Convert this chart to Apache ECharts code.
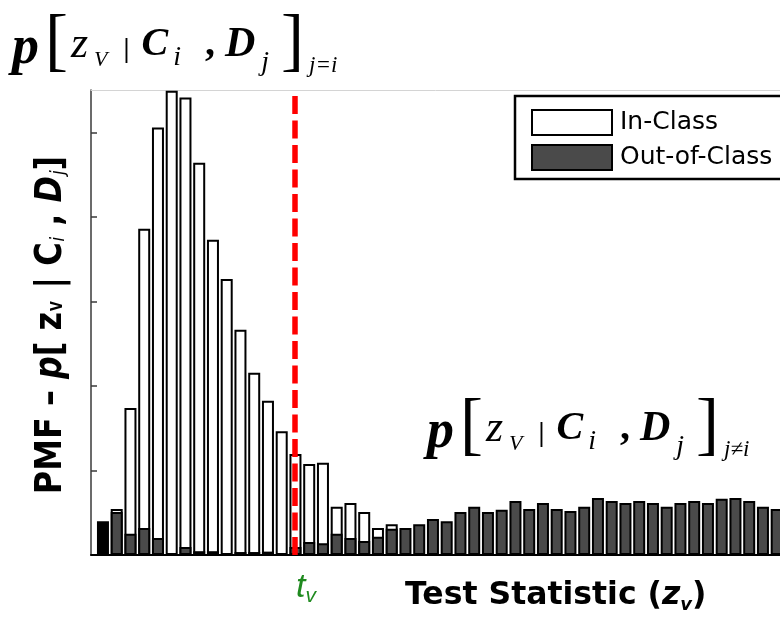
<!DOCTYPE html>
<html>
<head>
<meta charset="utf-8">
<script src="https://cdn.jsdelivr.net/npm/echarts@6/dist/echarts.min.js"></script>
<style>
html, body { margin: 0; padding: 0; background: #fff; }
#chart { width: 780px; height: 619px; }
</style>
</head>
<body>
<div id="chart"></div>
<script>
// PMF of the test statistic, one value per histogram bin
var inClass = [0, 0.0109, 0.0348, 0.0772, 0.1011, 0.1098, 0.1082, 0.0928, 0.0746, 0.0653,
    0.0533, 0.0431, 0.0365, 0.0293, 0.0239, 0.0215, 0.0218, 0.0114, 0.0123, 0.0102,
    0.0064, 0.0073, 0, 0, 0, 0, 0, 0, 0, 0,
    0, 0, 0, 0, 0, 0, 0, 0, 0, 0,
    0, 0, 0, 0, 0, 0, 0, 0, 0, 0, 0];
var outClass = [0.0080, 0.0102, 0.0050, 0.0064, 0.0040, 0, 0.0019, 0.0009, 0.0009, 0,
    0.0007, 0.0007, 0.0008, 0, 0.0019, 0.0031, 0.0028, 0.0050, 0.0040, 0.0033,
    0.0043, 0.0062, 0.0064, 0.0073, 0.0085, 0.0080, 0.0102, 0.0114, 0.0102, 0.0107,
    0.0128, 0.0109, 0.0123, 0.0109, 0.0104, 0.0114, 0.0135, 0.0128, 0.0123, 0.0128,
    0.0123, 0.0114, 0.0123, 0.0128, 0.0123, 0.0133, 0.0135, 0.0128, 0.0114, 0.0109, 0.0142];
var seriesNames = ['In-Class', 'Out-of-Class'];
var tV = 14.97;               // threshold t_v, in bin units
var yTickValues = [0.02, 0.04, 0.06, 0.08, 0.10];
var yMax = 0.11;

var bins = inClass.map(function(v, i){ return i + 1; });

function toPairs(vals){
    return vals.map(function(v, i){ return [bins[i], v]; });
}

var outData = toPairs(outClass).map(function(p, i){
    // first bin is drawn solid black in the original
    return i === 0 ? { value: p, itemStyle: { color: '#000' } } : p;
});

var serif = 'Liberation Serif';
var sans = 'DejaVu Sans';
var blue = '#1515ee';
var green = '#1f8a1f';

// p[ z_V | C_i , D_j ]_sub  -- big formula, tokens placed from the top of a 70px line
function formulaRich(dColor){
    return {
        p:   { fontFamily: serif, fontStyle: 'italic', fontWeight: 'bold', fontSize: 54, lineHeight: 58, verticalAlign: 'top', padding: [12, 6, 0, 0] },
        bl:  { fontFamily: serif, fontSize: 69, lineHeight: 52, verticalAlign: 'top', padding: [0, 3, 0, 0] },
        br:  { fontFamily: serif, fontSize: 69, lineHeight: 52, verticalAlign: 'top', padding: [0, 3, 0, 12] },
        z:   { fontFamily: serif, fontStyle: 'italic', fontSize: 44, lineHeight: 70 },
        zs:  { fontFamily: serif, fontStyle: 'italic', fontSize: 22, lineHeight: 22, verticalAlign: 'top', padding: [39, 0, 0, 6] },
        bar: { fontFamily: serif, fontWeight: 'bold', fontSize: 27, lineHeight: 27, verticalAlign: 'top', padding: [27, 12, 0, 16] },
        c:   { fontFamily: serif, fontStyle: 'italic', fontWeight: 'bold', fontSize: 40, color: blue, lineHeight: 70 },
        cs:  { fontFamily: serif, fontStyle: 'italic', fontSize: 28, color: blue, lineHeight: 28, verticalAlign: 'top', padding: [34, 0, 0, 5] },
        cm:  { fontFamily: serif, fontWeight: 'bold', fontSize: 40, lineHeight: 70, padding: [0, 10, 0, 24] },
        d:   { fontFamily: serif, fontStyle: 'italic', fontWeight: 'bold', fontSize: 42, color: dColor, lineHeight: 70 },
        ds:  { fontFamily: serif, fontStyle: 'italic', fontSize: 28, color: dColor, lineHeight: 28, verticalAlign: 'top', padding: [39, 0, 0, 6] },
        sub: { fontFamily: serif, fontStyle: 'italic', fontSize: 23, color: blue, lineHeight: 22, verticalAlign: 'top', padding: [44, 0, 0, 2] }
    };
}

function formulaText(subText){
    return '{p|p}{bl|[}{z|z}{zs|V}{bar||}{c|C}{cs|i}{cm|,}{d|D}{ds|j}{br|]}{sub|' + subText + '}';
}

var myChart = echarts.init(document.getElementById('chart'));

var option = {
    animation: false,
    backgroundColor: '#fff',
    grid: { left: 91, right: 0, top: 90, bottom: 64 },
    legend: {
        data: seriesNames,
        orient: 'vertical',
        left: 515,
        top: 96,
        padding: [13, 30, 8, 16],
        itemWidth: 80,
        itemHeight: 25,
        itemGap: 8,
        icon: 'rect',
        borderColor: '#000',
        borderWidth: 2.5,
        backgroundColor: '#fff',
        textStyle: { fontFamily: sans, fontSize: 25, color: '#000', padding: [0, 0, 0, 3] }
    },
    xAxis: [{
        type: 'value',
        min: 0.13,
        max: 50.24,
        axisLine: { show: true, onZero: false, lineStyle: { color: '#000', width: 2 } },
        axisTick: { show: false },
        axisLabel: { show: false },
        splitLine: { show: false }
    }, {
        type: 'value',
        position: 'top',
        min: 0.13,
        max: 50.24,
        axisLine: { show: true, onZero: false, lineStyle: { color: '#d4d4d4', width: 1 } },
        axisTick: { show: false },
        axisLabel: { show: false },
        splitLine: { show: false }
    }],
    yAxis: {
        type: 'value',
        min: 0,
        max: yMax,
        axisLine: { show: true, onZero: false, lineStyle: { color: '#3a3a3a', width: 1.5 } },
        axisTick: { show: true, inside: true, length: 6, customValues: yTickValues, lineStyle: { color: '#3a3a3a', width: 1.5 } },
        axisLabel: { show: false },
        splitLine: { show: false }
    },
    graphic: [{
        type: 'text',
        left: 12,
        top: 10,
        style: { text: formulaText('j=i'), rich: formulaRich(blue), fill: '#000' }
    }, {
        type: 'text',
        left: 427,
        top: 394,
        style: { text: formulaText('j\u2260i'), rich: formulaRich(green), fill: '#000' }
    }, {
        // y axis title, narrow tall lettering as in the original
        type: 'text',
        x: 51,
        y: 325,
        rotation: Math.PI / 2,
        scaleX: 0.84,
        style: {
            text: '{a|PMF \u2013 }{it|p}{a|[ z}{sv|V}{a| | C}{si|i}{a| , }{it|D}{si|j}{a|]}',
            align: 'center',
            verticalAlign: 'middle',
            rich: {
                a:  { fontFamily: sans, fontWeight: 'bold', fontSize: 38, color: '#000', lineHeight: 44 },
                it: { fontFamily: sans, fontWeight: 'bold', fontStyle: 'italic', fontSize: 38, color: '#000', lineHeight: 44 },
                sv: { fontFamily: sans, fontWeight: 'bold', fontSize: 15, color: '#000', lineHeight: 15, verticalAlign: 'top', padding: [22, 2, 0, 1] },
                si: { fontFamily: sans, fontStyle: 'italic', fontSize: 20, color: '#000', lineHeight: 20, verticalAlign: 'top', padding: [20, 0, 0, 1] }
            }
        }
    }, {
        type: 'text',
        left: 405,
        top: 580,
        style: {
            text: '{a|Test Statistic (}{z|z}{v|v}{a|)}',
            rich: {
                a: { fontFamily: sans, fontWeight: 'bold', fontSize: 31.5, color: '#000', lineHeight: 36 },
                z: { fontFamily: sans, fontWeight: 'bold', fontStyle: 'italic', fontSize: 31.5, color: '#000', lineHeight: 36 },
                v: { fontFamily: sans, fontWeight: 'bold', fontStyle: 'italic', fontSize: 18, color: '#000', lineHeight: 24, verticalAlign: 'bottom' }
            }
        }
    }],
    series: [{
        name: seriesNames[0],
        type: 'bar',
        data: toPairs(inClass),
        barWidth: 12,
        barGap: '-100%',
        itemStyle: { color: '#fff', borderColor: '#000', borderWidth: 2 }
    }, {
        name: seriesNames[1],
        type: 'bar',
        data: outData,
        barWidth: 12,
        barGap: '-100%',
        itemStyle: { color: '#4a4a4a', borderColor: '#000', borderWidth: 2 },
        markLine: {
            silent: true,
            symbol: ['none', 'none'],
            lineStyle: { color: '#ff0000', width: 5.5, type: [18, 6.5], opacity: 1 },
            label: {
                show: true,
                position: 'start',
                distance: 14,
                formatter: '{t|t}{v|v}',
                padding: [0, 0, 0, 22],
                rich: {
                    t: { fontFamily: 'Liberation Sans', fontStyle: 'italic', fontSize: 34, color: green, lineHeight: 38 },
                    v: { fontFamily: 'Liberation Sans', fontStyle: 'italic', fontSize: 21, color: green, lineHeight: 26, verticalAlign: 'bottom' }
                }
            },
            data: [{ xAxis: tV }]
        }
    }]
};

myChart.setOption(option);
</script>
</body>
</html>
